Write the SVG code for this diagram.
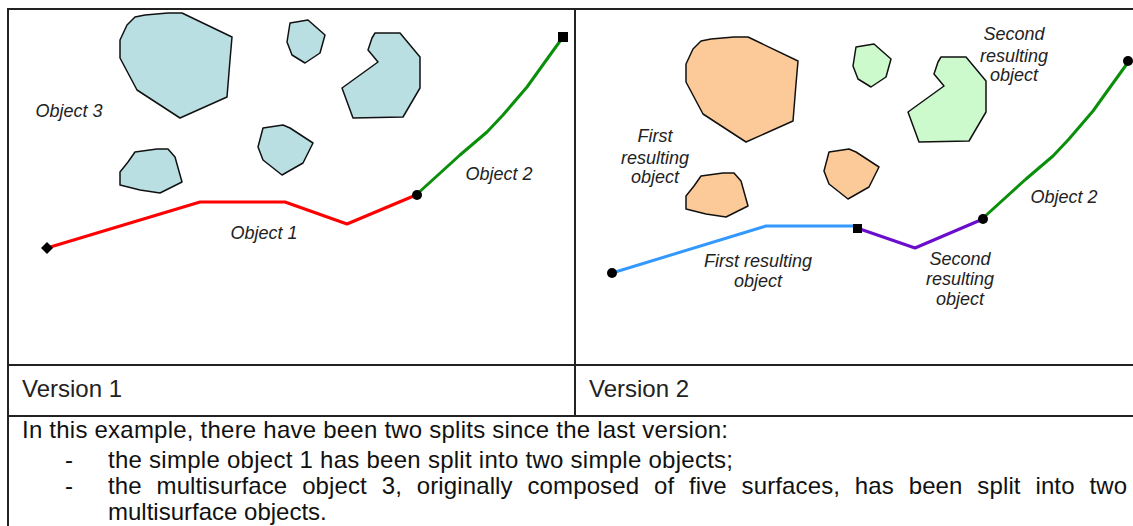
<svg xmlns="http://www.w3.org/2000/svg" width="1133" height="526" viewBox="0 0 1133 526">
  <style>
    .grid { stroke: #222; stroke-width: 2; fill: none; }
    .surf { stroke: #111; stroke-width: 1.5; stroke-linejoin: round; }
    .teal { fill: #B9DFE3; }
    .orange { fill: #FCCA98; }
    .mint { fill: #CCFACC; }
    .line { fill: none; stroke-width: 3; stroke-linejoin: round; stroke-linecap: round; }
    .lbl { font-family: "Liberation Sans", Arial, sans-serif; font-style: italic; font-size: 18px; fill: #222; text-anchor: middle; }
    .cap { font-family: "Liberation Sans", Arial, sans-serif; font-size: 24px; fill: #222; }
    .body { font-family: "Liberation Sans", Arial, sans-serif; font-size: 24px; fill: #111; }
  </style>

  <rect width="1133" height="526" fill="#fff"/>

  <!-- table frame -->
  <g id="table">
    <line class="grid" x1="8" y1="9" x2="1133" y2="9"/>
    <line class="grid" x1="8" y1="8" x2="8" y2="526"/>
    <line class="grid" x1="575" y1="9" x2="575" y2="416"/>
    <line class="grid" x1="8" y1="365" x2="1133" y2="365"/>
    <line class="grid" x1="8" y1="416" x2="1133" y2="416"/>
  </g>

  <!-- version 1 surfaces (object 3) -->
  <g id="v1-surface-a"><polygon class="surf teal" points="135,17 145,15 168,13 182,13 232,37 230,60 227,97 180,118 137,90 120,58 120,40 127,25"/></g>
  <g id="v1-surface-b"><polygon class="surf teal" points="290,23 308,20 325,35 320,53 305,63 292,55 287,42"/></g>
  <g id="v1-surface-c"><polygon class="surf teal" points="375,33 400,33 420,57 420,88 403,117 353,118 342,88 378,62 368,50 372,38"/></g>
  <g id="v1-surface-d"><polygon class="surf teal" points="263,128 283,125 290,128 313,143 303,163 282,175 263,160 258,147"/></g>
  <g id="v1-surface-e"><polygon class="surf teal" points="135,152 157,149 168,149 175,157 182,182 160,193 140,190 120,185 120,172 128,162"/></g>

  <!-- version 2 surfaces: same shapes, split into two multisurfaces -->
  <g id="v2-surface-a" transform="translate(566,24)"><polygon class="surf orange" points="135,17 145,15 168,13 182,13 232,37 230,60 227,97 180,118 137,90 120,58 120,40 127,25"/></g>
  <g id="v2-surface-b" transform="translate(566,24)"><polygon class="surf mint" points="290,23 308,20 325,35 320,53 305,63 292,55 287,42"/></g>
  <g id="v2-surface-c" transform="translate(566,24)"><polygon class="surf mint" points="375,33 400,33 420,57 420,88 403,117 353,118 342,88 378,62 368,50 372,38"/></g>
  <g id="v2-surface-d" transform="translate(566,24)"><polygon class="surf orange" points="263,128 283,125 290,128 313,143 303,163 282,175 263,160 258,147"/></g>
  <g id="v2-surface-e" transform="translate(566,24)"><polygon class="surf orange" points="135,152 157,149 168,149 175,157 182,182 160,193 140,190 120,185 120,172 128,162"/></g>

  <!-- linear objects -->
  <g id="connectors">
    <polyline class="line" stroke="#FF0000" points="47,248 200,202 285,202 347,224 416,195"/>
    <polyline class="line" stroke="#0A8F0A" points="416,195 460,155 487,132 503,115 527,87 550,55 563,37"/>
    <polyline class="line" stroke="#3399FF" points="612,273 766,226 857,226"/>
    <polyline class="line" stroke="#6A0DCC" points="857,228 915,248 983,219"/>
    <polyline class="line" stroke="#0A8F0A" points="982,219 1026,179 1053,156 1069,139 1093,111 1116,79 1129,61"/>
  </g>

  <!-- vertices -->
  <g id="vertices" fill="#000">
    <polygon points="47,242 53,248 47,254 41,248"/>
    <circle cx="417" cy="195" r="5"/>
    <rect x="558" y="32" width="10" height="10"/>
    <circle cx="612" cy="273" r="5"/>
    <rect x="853" y="224" width="9" height="9"/>
    <circle cx="983" cy="219" r="5"/>
    <circle cx="1128" cy="61" r="5"/>
  </g>

  <!-- object labels -->
  <g id="labels">
    <text class="lbl" x="69" y="117">Object 3</text>
    <text class="lbl" x="264" y="239">Object 1</text>
    <text class="lbl" x="499" y="180">Object 2</text>
    <text class="lbl" x="655" y="142">First</text>
    <text class="lbl" x="655" y="164">resulting</text>
    <text class="lbl" x="655" y="183">object</text>
    <text class="lbl" x="1014" y="40">Second</text>
    <text class="lbl" x="1014" y="62">resulting</text>
    <text class="lbl" x="1014" y="81">object</text>
    <text class="lbl" x="1064" y="203">Object 2</text>
    <text class="lbl" x="758" y="267">First resulting</text>
    <text class="lbl" x="758" y="287">object</text>
    <text class="lbl" x="960" y="265">Second</text>
    <text class="lbl" x="960" y="285">resulting</text>
    <text class="lbl" x="960" y="305">object</text>
  </g>

  <!-- column captions -->
  <g id="captions">
    <text class="cap" x="22" y="397">Version 1</text>
    <text class="cap" x="589" y="397">Version 2</text>
  </g>

  <!-- explanatory text -->
  <g id="description">
    <text class="body" x="22" y="438" textLength="706" lengthAdjust="spacing">In this example, there have been two splits since the last version:</text>
    <text class="body" x="65" y="468">-</text>
    <text class="body" x="108" y="468" textLength="625" lengthAdjust="spacing">the simple object 1 has been split into two simple objects;</text>
    <text class="body" x="65" y="494">-</text>
    <text class="body" x="108" y="494" word-spacing="8" textLength="1019" lengthAdjust="spacing">the multisurface object 3, originally composed of five surfaces, has been split into two</text>
    <text class="body" x="108" y="520">multisurface objects.</text>
  </g>
</svg>
